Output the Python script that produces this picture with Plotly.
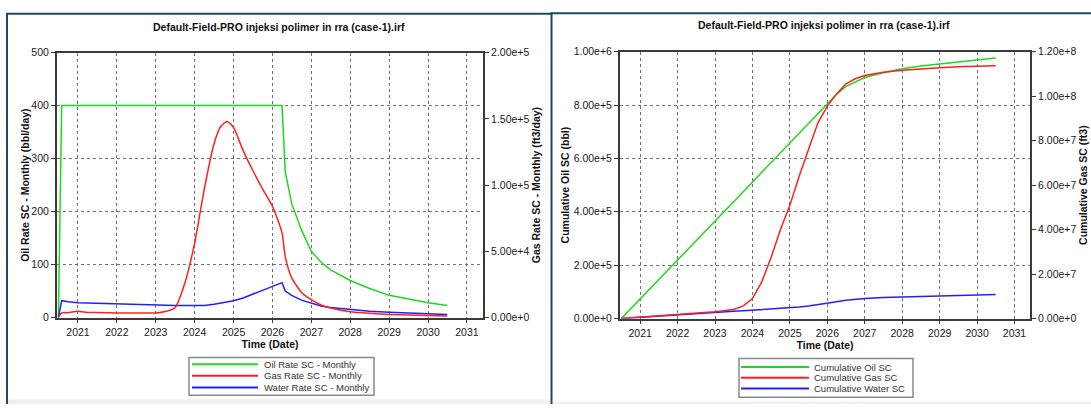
import plotly.graph_objects as go

W, H = 1091, 410

# ---------------- data ----------------
rate_dates = ["2020-07-01", "2020-08-01", "2020-10-01", "2021-01-01", "2021-04-01", "2021-07-01",
              "2022-01-01", "2022-07-01", "2023-01-01", "2023-04-01", "2023-07-01", "2023-10-01",
              "2024-01-01", "2024-04-01", "2024-07-01", "2024-09-01", "2024-11-01", "2025-01-01",
              "2025-04-01", "2025-07-01", "2025-10-01", "2026-01-01", "2026-04-01", "2026-05-01",
              "2026-07-01", "2026-10-01", "2027-01-01", "2027-04-01", "2027-07-01", "2028-01-01",
              "2028-07-01", "2029-01-01", "2029-07-01", "2030-01-01", "2030-07-01"]
oil_rate = [0, 400, 400, 400, 400, 400, 400, 400, 400, 400, 400, 400,
            400, 400, 400, 400, 400, 400, 400, 400, 400, 400, 400, 275,
            215, 165, 125, 105, 90, 70, 55, 42, 35, 28, 23]
gas_rate = [0, 3600, 3700, 4800, 3900, 3800, 3400, 3400, 3500, 4600, 7500, 26000,
            56000, 97000, 131000, 144000, 148000, 143500, 126000, 111000, 97000, 84000, 64000, 46000,
            30000, 19000, 13500, 9500, 7200, 4400, 3200, 2400, 1900, 1500, 1200]
water_rate = [0, 32, 30, 28, 27.5, 27, 25, 24, 23, 23, 23, 23,
              23, 23, 25, 27, 29, 32, 37, 44, 51, 58, 66, 50,
              42, 33, 27, 22, 19, 15, 12, 10, 8.5, 7, 6]

cum_dates = ["2020-07-01", "2021-01-01", "2021-07-01", "2022-01-01", "2022-07-01", "2023-01-01",
             "2023-07-01", "2023-10-01", "2024-01-01", "2024-04-01", "2024-07-01", "2024-10-01",
             "2025-01-01", "2025-04-01", "2025-07-01", "2025-10-01", "2026-01-01", "2026-04-01",
             "2026-07-01", "2026-10-01", "2027-01-01", "2027-07-01", "2028-01-01", "2028-07-01",
             "2029-01-01", "2029-07-01", "2030-01-01", "2030-07-01"]
cum_oil = [0, 73000, 146000, 219000, 292000, 365000, 438000, 475000, 511000, 548000, 584000, 621000,
           657000, 694000, 730000, 767000, 803000, 840000, 870000, 888000, 903000, 921000, 936000, 946000,
           954000, 962000, 969000, 976000]
cum_gas = [0, 0.6e6, 1.3e6, 1.9e6, 2.5e6, 3.1e6, 4.1e6, 5.6e6, 9.0e6, 16.5e6, 27.5e6, 40e6,
           51e6, 64e6, 76e6, 88e6, 95.5e6, 101e6, 105.5e6, 107.8e6, 109.3e6, 110.7e6, 111.6e6, 112.3e6,
           112.8e6, 113.2e6, 113.5e6, 113.7e6]
cum_water = [0, 5000, 10000, 14500, 19000, 23000, 27000, 29000, 31000, 33000, 35000, 37500,
             40000, 43000, 47000, 51500, 57000, 63000, 68500, 72500, 75500, 79000, 81000, 83500,
             85000, 86500, 88000, 90000]

year_ticks = ["2021-01-01", "2022-01-01", "2023-01-01", "2024-01-01", "2025-01-01", "2026-01-01",
              "2027-01-01", "2028-01-01", "2029-01-01", "2030-01-01", "2031-01-01"]
year_labels = ["2021", "2022", "2023", "2024", "2025", "2026", "2027", "2028", "2029", "2030", "2031"]
oil_rate_ticks = [0, 100, 200, 300, 400, 500]
gas_rate_ticks = [0, 5e4, 1e5, 1.5e5, 2e5]
gas_rate_labels = ["0.00e+0", "5.00e+4", "1.00e+5", "1.50e+5", "2.00e+5"]
cum_oil_ticks = [0, 2e5, 4e5, 6e5, 8e5, 1e6]
cum_oil_labels = ["0.00e+0", "2.00e+5", "4.00e+5", "6.00e+5", "8.00e+5", "1.00e+6"]
cum_gas_ticks = [0, 2e7, 4e7, 6e7, 8e7, 1e8, 1.2e8]
cum_gas_labels = ["0.00e+0", "2.00e+7", "4.00e+7", "6.00e+7", "8.00e+7", "1.00e+8", "1.20e+8"]

chart_title = "Default-Field-PRO injeksi polimer in rra (case-1).irf"
rate_names = ["Oil Rate SC - Monthly", "Gas Rate SC - Monthly", "Water Rate SC - Monthly"]
cum_names = ["Cumulative Oil SC", "Cumulative Gas SC", "Cumulative Water SC"]

# ---------------- styling ----------------
GREEN, RED, BLUE = "#1ed81e", "#ff1f1f", "#1f1fff"
FONT = "Liberation Sans, Arial, sans-serif"
AXC = "#3a3a3a"
GRID = "#707070"
TICKF = dict(family=FONT, size=10.5, color="#1a1a1a")
TITLEF = dict(family=FONT, size=10.5, color="#111111", weight="bold")
LW = 1.5


def px(x):
    return x / W


def py(y):
    return 1 - y / H


fig = go.Figure()
fig.add_trace(go.Scatter(x=rate_dates, y=oil_rate, name=rate_names[0], mode="lines",
                         line=dict(color=GREEN, width=LW), xaxis="x", yaxis="y", showlegend=False))
fig.add_trace(go.Scatter(x=rate_dates, y=gas_rate, name=rate_names[1], mode="lines",
                         line=dict(color=RED, width=LW, shape="spline", smoothing=0.6),
                         xaxis="x", yaxis="y2", showlegend=False))
fig.add_trace(go.Scatter(x=rate_dates, y=water_rate, name=rate_names[2], mode="lines",
                         line=dict(color=BLUE, width=LW), xaxis="x", yaxis="y", showlegend=False))
fig.add_trace(go.Scatter(x=cum_dates, y=cum_oil, name=cum_names[0], mode="lines",
                         line=dict(color=GREEN, width=LW), xaxis="x2", yaxis="y3", showlegend=False))
fig.add_trace(go.Scatter(x=cum_dates, y=cum_gas, name=cum_names[1], mode="lines",
                         line=dict(color=RED, width=LW), xaxis="x2", yaxis="y4", showlegend=False))
fig.add_trace(go.Scatter(x=cum_dates, y=cum_water, name=cum_names[2], mode="lines",
                         line=dict(color=BLUE, width=LW), xaxis="x2", yaxis="y3", showlegend=False))

xrange = ["2020-06-18", "2031-06-01"]


def xaxis_cfg(domain, anchor):
    return dict(domain=domain, anchor=anchor, type="date", range=xrange,
                tickmode="array", tickvals=year_ticks, ticktext=year_labels,
                ticks="outside", ticklen=4, tickcolor=AXC, tickwidth=1, tickfont=TICKF,
                showline=True, linecolor=AXC, linewidth=1.5, mirror=True,
                showgrid=True, gridcolor=GRID, griddash="dot", gridwidth=1, zeroline=False,
                title=dict(text="Time (Date)", font=TITLEF, standoff=3))


def yaxis_cfg(domain, anchor, rng, tv, tt, title, side="left", grid=True, overlay=None, standoff=3):
    d = dict(domain=domain, anchor=anchor, range=rng, side=side,
             tickmode="array", tickvals=tv, ticktext=tt,
             ticks="outside", ticklen=4, tickcolor=AXC, tickwidth=1, tickfont=TICKF,
             showline=True, linecolor=AXC, linewidth=2,
             showgrid=grid, gridcolor=GRID, griddash="dot", gridwidth=1, zeroline=False,
             title=dict(text=title, font=TITLEF, standoff=standoff))
    if overlay:
        d["overlaying"] = overlay
    return d


L_DOM_X = [px(57), px(483)]
L_DOM_Y = [py(321), py(48)]
R_DOM_X = [px(620), px(1030)]
R_DOM_Y = [py(322), py(47)]

fig.update_layout(
    width=W, height=H, autosize=False,
    margin=dict(l=0, r=0, t=0, b=0),
    paper_bgcolor="white", plot_bgcolor="white",
    showlegend=False,
    xaxis=xaxis_cfg(L_DOM_X, "y"),
    yaxis=yaxis_cfg(L_DOM_Y, "x", [0, 500], oil_rate_ticks, [str(v) for v in oil_rate_ticks],
                    "Oil Rate SC - Monthly (bbl/day)", standoff=0),
    yaxis2=yaxis_cfg(L_DOM_Y, "x", [0, 2e5], gas_rate_ticks, gas_rate_labels,
                     "Gas Rate SC - Monthly (ft3/day)", side="right", grid=False, overlay="y", standoff=2),
    xaxis2=xaxis_cfg(R_DOM_X, "y3"),
    yaxis3=yaxis_cfg(R_DOM_Y, "x2", [0, 1e6], cum_oil_ticks, cum_oil_labels,
                     "Cumulative Oil SC (bbl)", standoff=2),
    yaxis4=yaxis_cfg(R_DOM_Y, "x2", [0, 1.2e8], cum_gas_ticks, cum_gas_labels,
                     "Cumulative Gas SC (ft3)", side="right", grid=False, overlay="y3", standoff=1),
)

shapes = []
annotations = []

# chart titles
for cx, cy in [(279, 22), (824, 20)]:
    annotations.append(dict(x=px(cx), y=py(cy), xref="paper", yref="paper", text=chart_title,
                            showarrow=False, xanchor="center", yanchor="middle",
                            font=dict(family=FONT, size=10.5, color="#111111", weight="bold")))

# panel frames
BORDER = "#1d4a60"
shapes.append(dict(type="rect", xref="paper", yref="paper", x0=px(8), x1=px(550), y0=py(410), y1=py(405),
                   fillcolor="#f0f0f0", line=dict(width=0), layer="below"))
shapes.append(dict(type="rect", xref="paper", yref="paper", x0=px(553), x1=px(1091), y0=py(410), y1=py(407.5),
                   fillcolor="#f0f0f0", line=dict(width=0), layer="below"))
shapes.append(dict(type="line", xref="paper", yref="paper", x0=px(7), x1=px(7), y0=py(410), y1=py(7.5),
                   line=dict(color=BORDER, width=2)))
shapes.append(dict(type="line", xref="paper", yref="paper", x0=px(6), x1=px(551), y0=py(8), y1=py(8),
                   line=dict(color=BORDER, width=2)))
shapes.append(dict(type="line", xref="paper", yref="paper", x0=px(551.5), x1=px(551.5), y0=py(410), y1=py(6.5),
                   line=dict(color=BORDER, width=2)))
shapes.append(dict(type="line", xref="paper", yref="paper", x0=px(551), x1=px(1091), y0=py(7.5), y1=py(7.5),
                   line=dict(color=BORDER, width=2)))

# manual legends (boxes, swatches, labels)
legend_specs = [
    dict(box=(189, 362, 374, 401), sw=(192, 258), tx=262, ys=(369, 381, 393), names=rate_names),
    dict(box=(739, 363, 913, 403), sw=(741, 809), tx=812, ys=(372, 383, 394), names=cum_names),
]
colors = [GREEN, RED, BLUE]
for spec in legend_specs:
    bx0, by0, bx1, by1 = spec["box"]
    shapes.append(dict(type="rect", xref="paper", yref="paper", x0=px(bx0), x1=px(bx1), y0=py(by1), y1=py(by0),
                       line=dict(color="#8a8a8a", width=1.5), fillcolor="white"))
    for name, col, yy in zip(spec["names"], colors, spec["ys"]):
        shapes.append(dict(type="line", xref="paper", yref="paper", x0=px(spec["sw"][0]), x1=px(spec["sw"][1]),
                           y0=py(yy), y1=py(yy), line=dict(color=col, width=2)))
        annotations.append(dict(x=px(spec["tx"]), y=py(yy), xref="paper", yref="paper", text=name,
                                showarrow=False, xanchor="left", yanchor="middle",
                                font=dict(family=FONT, size=9.5, color="#333333")))

fig.update_layout(shapes=shapes, annotations=annotations)
fig.write_html("out.html", config={"displayModeBar": False},
               post_script="document.body.style.margin='0';document.body.style.overflow='hidden';")
